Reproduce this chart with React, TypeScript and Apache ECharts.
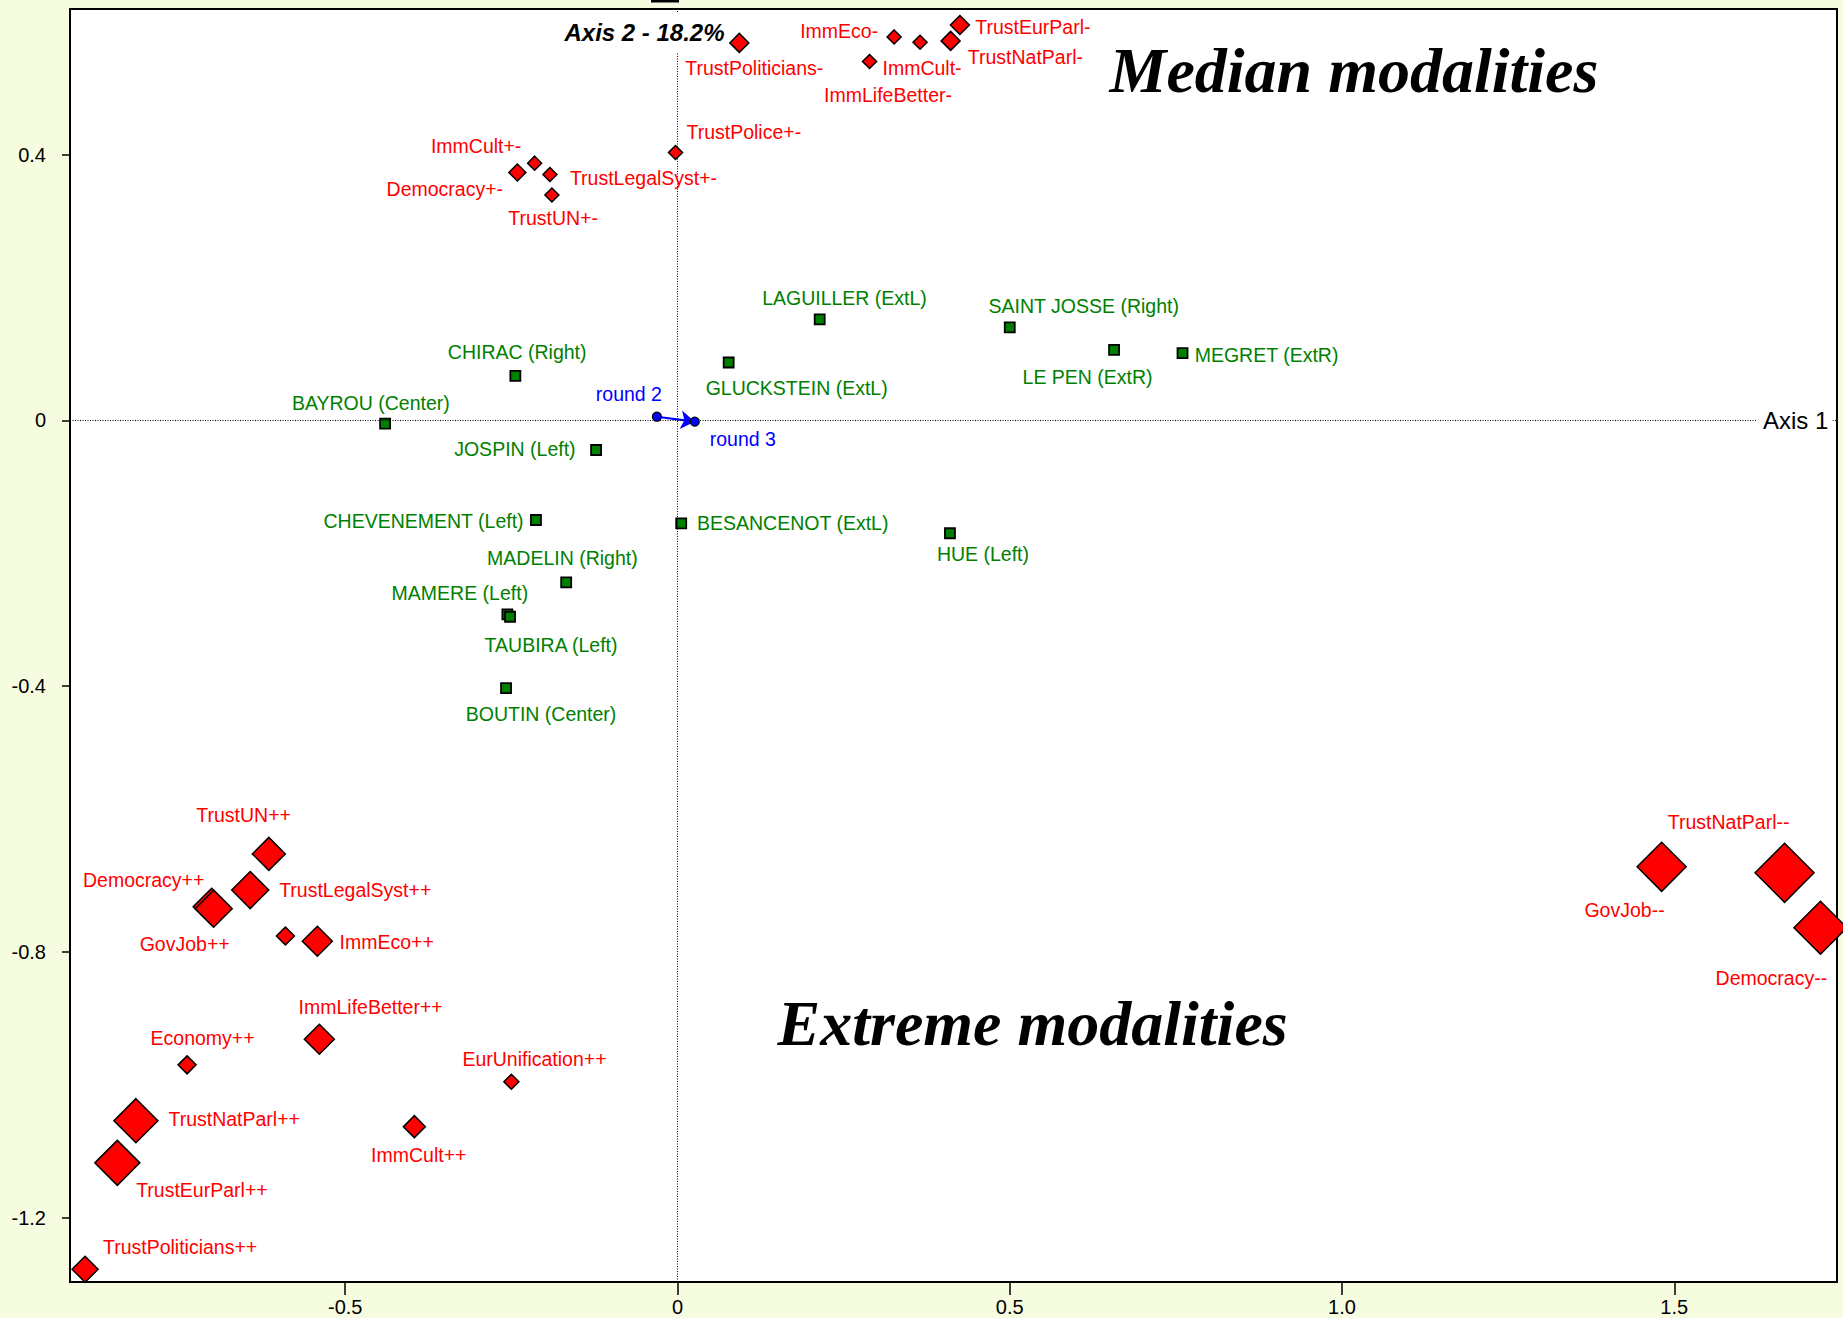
import React, { useEffect, useRef } from "react";
import * as echarts from "echarts";

// ---------- axis extents & ticks ----------
const X_MIN = -0.9142;
const X_MAX = 1.7449;
const Y_MIN = -1.2968;
const Y_MAX = 0.619;
const X_TICKS = [-0.5, 0, 0.5, 1.0, 1.5];
const Y_TICKS = [-1.2, -0.8, -0.4, 0, 0.4];

// ---------- active modalities (red diamonds) ----------
const modalityNames = [
  "TrustPoliticians-", "ImmEco-", "ImmCult-", "ImmLifeBetter-", "TrustEurParl-", "TrustNatParl-",
  "TrustPolice+-", "ImmCult+-", "Democracy+-", "TrustLegalSyst+-", "TrustUN+-",
  "GovJob++", "Democracy++", "TrustUN++", "TrustLegalSyst++", "", "ImmEco++", "ImmLifeBetter++",
  "Economy++", "EurUnification++", "TrustNatParl++", "ImmCult++", "TrustEurParl++", "TrustPoliticians++",
  "GovJob--", "TrustNatParl--", "Democracy--",
];
const modalityX = [
  0.093, 0.326, 0.365, 0.289, 0.425, 0.411,
  -0.003, -0.215, -0.241, -0.192, -0.189,
  -0.701, -0.698, -0.615, -0.643, -0.59, -0.542, -0.539,
  -0.738, -0.25, -0.815, -0.396, -0.843, -0.8915,
  1.481, 1.666, 1.72,
];
const modalityY = [
  0.568, 0.577, 0.569, 0.54, 0.595, 0.571,
  0.403, 0.387, 0.373, 0.37, 0.339,
  -0.732, -0.735, -0.6525, -0.707, -0.776, -0.784, -0.9315,
  -0.97, -0.9955, -1.054, -1.063, -1.1175, -1.2777,
  -0.672, -0.681, -0.7636,
];
// marker weight (drawn as diamond size)
const modalityWeight = [
  19, 14, 14, 14, 19, 19,
  14, 14, 17, 14, 14,
  37, 37, 33, 37, 18, 30, 30,
  18, 15, 44, 22, 45, 26,
  49, 59, 53,
];

// ---------- supplementary: candidates (green squares) ----------
const candidateNames = [
  "LAGUILLER (ExtL)", "CHIRAC (Right)", "GLUCKSTEIN (ExtL)", "BAYROU (Center)", "SAINT JOSSE (Right)",
  "LE PEN (ExtR)", "MEGRET (ExtR)", "JOSPIN (Left)", "CHEVENEMENT (Left)", "BESANCENOT (ExtL)",
  "MADELIN (Right)", "MAMERE (Left)", "TAUBIRA (Left)", "BOUTIN (Center)", "HUE (Left)",
];
const candidateX = [0.214, -0.244, 0.077, -0.44, 0.5, 0.657, 0.76, -0.1225, -0.213, 0.0056, -0.1675, -0.256, -0.252, -0.258, 0.41];
const candidateY = [0.152, 0.067, 0.087, -0.005, 0.14, 0.106, 0.101, -0.0447, -0.15, -0.155, -0.244, -0.292, -0.2956, -0.403, -0.17];

// ---------- supplementary: rounds (blue) ----------
const roundNames = ["round 2", "round 3"];
const roundX = [-0.031, 0.026];
const roundY = [0.0054, -0.002];

// ---------- label placement (px offset of label centre from marker centre) ----------
const LABEL_OFFSET: Record<string, [number, number]> = {
  "TrustPoliticians-": [15, 25.5],
  "ImmEco-": [-55, -5.7],
  "ImmCult-": [2, 25.6],
  "ImmLifeBetter-": [18.5, 33.5],
  "TrustEurParl-": [73, 1.7],
  "TrustNatParl-": [74.8, 16],
  "TrustPolice+-": [68.3, -20.3],
  "ImmCult+-": [-58.5, -17.5],
  "Democracy+-": [-72.5, 17],
  "TrustLegalSyst+-": [93.6, 3.6],
  "TrustUN+-": [1.2, 22.5],
  "LAGUILLER (ExtL)": [24.8, -21.8],
  "CHIRAC (Right)": [1.8, -23.5],
  "GLUCKSTEIN (ExtL)": [68, 25.6],
  "BAYROU (Center)": [-14.3, -20.7],
  "round 2": [-28, -22.7],
  "round 3": [48, 17.5],
  "SAINT JOSSE (Right)": [74, -21.5],
  "LE PEN (ExtR)": [-26.5, 26.7],
  "MEGRET (ExtR)": [84, 2.2],
  "JOSPIN (Left)": [-81.2, -1],
  "CHEVENEMENT (Left)": [-112.4, 0.8],
  "BESANCENOT (ExtL)": [111.5, -0.8],
  "MADELIN (Right)": [-3.8, -24],
  "MAMERE (Left)": [-47.5, -21.8],
  "TAUBIRA (Left)": [41, 28.3],
  "BOUTIN (Center)": [35, 26],
  "HUE (Left)": [33, 21],
  "TrustUN++": [-25.2, -38.5],
  "Democracy++": [-70, -29],
  "TrustLegalSyst++": [105, 0],
  "GovJob++": [-27, 37.2],
  "ImmEco++": [69.3, 0.6],
  "ImmLifeBetter++": [51.3, -31.8],
  "Economy++": [15.5, -27],
  "EurUnification++": [23.1, -23.2],
  "TrustNatParl++": [98.3, -1.8],
  "ImmCult++": [4.4, 28.6],
  "TrustEurParl++": [84.6, 27.5],
  "TrustPoliticians++": [95, -22.5],
  "TrustNatParl--": [-55.9, -50.4],
  "GovJob--": [-37.1, 42.9],
  "Democracy--": [-49.1, 50],
};

const SANS = '"Liberation Sans", Arial, sans-serif';
const SERIF = '"Liberation Serif", "Times New Roman", serif';
const LABEL_SIZE = 19.5;

function labelFor(name: string) {
  const off = LABEL_OFFSET[name];
  return off ? { show: true, offset: off } : { show: false };
}

const fmt = (v: number) => (v === 0 ? "0" : v.toFixed(1));

export default function App() {
  const ref = useRef<HTMLDivElement>(null);
  useEffect(() => {
    document.body.style.margin = "0";
    const chart = echarts.init(ref.current!, null, { renderer: "svg" });

    const modalityData = modalityNames.map((name, i) => ({
      name,
      value: [modalityX[i], modalityY[i]],
      symbolSize: modalityWeight[i],
      label: labelFor(name),
    }));
    const candidateData = candidateNames.map((name, i) => ({
      name,
      value: [candidateX[i], candidateY[i]],
      label: labelFor(name),
    }));
    const roundData = roundNames.map((name, i) => ({
      name,
      value: [roundX[i], roundY[i]],
      label: labelFor(name),
    }));

    const baseLabel = {
      position: "inside",
      align: "center",
      verticalAlign: "middle",
      formatter: "{b}",
      fontFamily: SANS,
      fontSize: LABEL_SIZE,
    };

    const option: any = {
      animation: false,
      backgroundColor: "#F6FCE0",
      grid: {
        left: 70,
        right: 6,
        top: 9,
        bottom: 36,
        show: true,
        backgroundColor: "#ffffff",
        borderColor: "#000000",
        borderWidth: 2,
      },
      xAxis: {
        type: "value",
        min: X_MIN,
        max: X_MAX,
        position: "bottom",
        axisLine: { onZero: false, lineStyle: { color: "#000", width: 2 } },
        axisTick: { show: true, length: 13, customValues: X_TICKS, lineStyle: { color: "#000", width: 1.5 } },
        axisLabel: {
          customValues: X_TICKS,
          formatter: fmt,
          color: "#000",
          fontFamily: SANS,
          fontSize: 20,
          margin: 15,
        },
        splitLine: { show: false },
      },
      yAxis: {
        type: "value",
        min: Y_MIN,
        max: Y_MAX,
        position: "left",
        axisLine: { onZero: false, lineStyle: { color: "#000", width: 2 } },
        axisTick: { show: true, length: 8, customValues: Y_TICKS, lineStyle: { color: "#000", width: 1.5 } },
        axisLabel: {
          customValues: Y_TICKS,
          formatter: fmt,
          color: "#000",
          fontFamily: SANS,
          fontSize: 20,
          margin: 24,
        },
        splitLine: { show: false },
      },
      series: [
        {
          type: "scatter",
          name: "candidates",
          z: 3,
          clip: false,
          symbol: "rect",
          symbolSize: 10,
          itemStyle: { color: "#008000", borderColor: "#000", borderWidth: 1.8, opacity: 1 },
          label: { ...baseLabel, color: "#008000" },
          data: candidateData,
          markLine: {
            silent: true,
            symbol: ["none", "none"],
            label: { show: false },
            lineStyle: { color: "#000", width: 1, type: [1, 1.5], opacity: 1 },
            data: [
              [{ coord: [X_MIN, 0] }, { coord: [X_MAX, 0] }],
              [{ coord: [0, Y_MIN] }, { coord: [0, Y_MAX] }],
            ],
          },
        },
        {
          type: "lines",
          coordinateSystem: "cartesian2d",
          z: 4,
          symbol: ["none", "arrow"],
          symbolSize: 14,
          lineStyle: { color: "#0000FF", width: 2.2, opacity: 1, curveness: 0 },
          data: [{ coords: [[roundX[0], roundY[0]], [roundX[1], roundY[1]]] }],
        },
        {
          type: "scatter",
          name: "rounds",
          z: 5,
          clip: false,
          symbol: "circle",
          symbolSize: 9,
          itemStyle: { color: "#0000FF", borderColor: "#000", borderWidth: 1.2, opacity: 1 },
          label: { ...baseLabel, color: "#0000FF" },
          data: roundData,
        },
        {
          type: "scatter",
          name: "modalities",
          z: 6,
          clip: false,
          symbol: "diamond",
          itemStyle: { color: "#FF0000", borderColor: "#000", borderWidth: 1.5, opacity: 1 },
          label: { ...baseLabel, color: "#FF0000" },
          data: modalityData,
        },
      ],
      graphic: [
        {
          type: "rect",
          z: 100,
          shape: { x: 651, y: 0, width: 28, height: 2.5 },
          style: { fill: "#000" },
        },
        {
          type: "text",
          z: 100,
          x: 644.5,
          y: 32,
          style: {
            text: "Axis 2 - 18.2%",
            font: `italic bold 24px ${SANS}`,
            fill: "#000",
            align: "center",
            verticalAlign: "middle",
            backgroundColor: "#ffffff",
            padding: [8, 3, 8, 3],
          },
        },
        {
          type: "text",
          z: 100,
          x: 1757,
          y: 420.3,
          style: {
            text: "Axis 1",
            font: `24px ${SANS}`,
            fill: "#000",
            align: "left",
            verticalAlign: "middle",
            backgroundColor: "#ffffff",
            padding: [3, 4, 3, 6],
          },
        },
        {
          type: "text",
          z: 100,
          x: 1109.5,
          y: 70.5,
          style: {
            text: "Median modalities",
            font: `italic bold 64px ${SERIF}`,
            fill: "#000",
            align: "left",
            verticalAlign: "middle",
          },
        },
        {
          type: "text",
          z: 100,
          x: 777.5,
          y: 1023.5,
          style: {
            text: "Extreme modalities",
            font: `italic bold 64px ${SERIF}`,
            fill: "#000",
            align: "left",
            verticalAlign: "middle",
          },
        },
      ],
    };

    chart.setOption(option);
    return () => chart.dispose();
  }, []);

  return (
    <div
      ref={ref}
      style={{ position: "absolute", left: 0, top: 0, width: 1843, height: 1318 }}
    />
  );
}
